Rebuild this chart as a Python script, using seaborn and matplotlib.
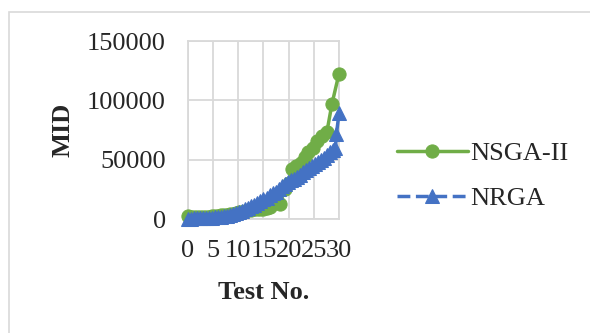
import matplotlib
matplotlib.use("Agg")
import matplotlib.pyplot as plt
import seaborn as sns
import pandas as pd
from matplotlib.patches import Rectangle

# Test numbers and MID values for each algorithm
nsga_x = [0, 0.6, 1.2, 1.8, 2.4, 3.0, 3.6, 4.2, 4.8, 5.4, 6.0, 6.6, 7.2, 7.8,
          8.4, 9.0, 9.6, 10.2, 10.8, 11.4, 12.0, 12.6, 13.2, 13.8, 14.4, 15.0,
          15.6, 16.2, 16.8, 17.4, 18.3, 19.2, 20.0, 20.7, 21.5, 22.4, 23.2,
          23.9, 24.8, 25.7, 26.6, 27.6, 28.6, 30.0]
nsga_mid = [2500, 1500, 1600, 1700, 1800, 1900, 2000, 2100, 2300, 2500, 2700,
            3000, 3300, 3600, 4000, 4500, 5000, 5600, 6200, 6800, 7400, 8000,
            8300, 8500, 8600, 8800, 9500, 10500, 13500, 15500, 12500, 25000,
            30000, 42000, 45000, 47000, 52000, 56500, 60000, 66000, 70000,
            73500, 97000, 122500]

nrga_x = [0, 0.6, 1.2, 1.8, 2.4, 3.0, 3.6, 4.2, 4.8, 5.4, 6.0, 6.6, 7.2, 7.8,
          8.4, 9.0, 9.6, 10.2, 10.8, 11.4, 12.0, 12.6, 13.2, 13.8, 14.4, 15.0,
          15.6, 16.2, 16.8, 17.4, 18.0, 18.6, 19.2, 19.8, 20.4, 21.0, 21.6,
          22.2, 22.8, 23.4, 24.0, 24.6, 25.2, 25.8, 26.4, 27.0, 27.6, 28.2,
          28.8, 29.3, 29.5, 30.0]
nrga_mid = [300, 400, 500, 600, 700, 800, 900, 1000, 1200, 1400, 1700, 2000,
            2400, 2900, 3500, 4200, 5000, 6000, 7000, 8200, 9500, 10800, 12000,
            13500, 15000, 16500, 18000, 20000, 21500, 23000, 25500, 27500,
            29500, 31000, 32500, 34000, 35500, 37500, 39500, 41500, 43000,
            44500, 46000, 48000, 49500, 51500, 54000, 56500, 58000, 60000,
            72000, 89000]

y_ticks = [0, 50000, 100000, 150000]
x_ticks = [0, 5, 10, 15, 20, 25, 30]

GREEN = "#70AD47"
BLUE = "#4472C4"
GRID = "#D9D9D9"
FS = 19

sns.set_theme(style="white")
plt.rcParams["font.family"] = ["Liberation Serif", "DejaVu Serif"]

fig = plt.figure(figsize=(5.9, 3.33), dpi=100)
fig.patch.set_facecolor("white")
# light chart-area border
fig.patches.append(Rectangle((9 / 590, -0.05), 1.0, 1 - 12 / 333 + 0.05,
                             transform=fig.transFigure, fill=False,
                             edgecolor=GRID, linewidth=1.2))

ax = fig.add_axes([188 / 590, 1 - 219 / 333, (339 - 188) / 590, (219 - 41) / 333])

df_a = pd.DataFrame({"Test No.": nsga_x, "MID": nsga_mid})
df_b = pd.DataFrame({"Test No.": nrga_x, "MID": nrga_mid})

sns.lineplot(data=df_a, x="Test No.", y="MID", ax=ax, color=GREEN,
             marker="o", markersize=9.5, markeredgecolor=GREEN, linewidth=2.5,
             label="NSGA-II", zorder=3, clip_on=False)
sns.lineplot(data=df_b, x="Test No.", y="MID", ax=ax, color=BLUE,
             marker="^", markersize=9.5, markeredgecolor=BLUE, linewidth=2.5,
             linestyle="--", label="NRGA", zorder=4, clip_on=False)

ax.set_xlim(0, 30)
ax.set_ylim(0, 150000)
ax.set_xticks(x_ticks)
ax.set_yticks(y_ticks)
ax.set_xticklabels([str(t) for t in x_ticks], fontsize=FS)
ax.set_yticklabels([str(t) for t in y_ticks], fontsize=FS)
ax.tick_params(axis="y", length=0, pad=16)
ax.tick_params(axis="x", length=0, pad=15)
ax.grid(True, color=GRID, linewidth=1.3)
for s in ax.spines.values():
    s.set_color(GRID)
    s.set_linewidth(1.3)

ax.set_xlabel("Test No.", fontsize=FS, fontweight="bold", labelpad=14)
ax.set_ylabel("MID", fontsize=FS, fontweight="bold", labelpad=9)

ax.legend(loc="center left", bbox_to_anchor=(386 / 590, 1 - 176 / 333),
          bbox_transform=fig.transFigure, frameon=False, fontsize=FS,
          handlelength=2.7, handletextpad=0.1, labelspacing=0.8,
          borderaxespad=0)

fig.savefig("out.png", dpi=100, facecolor="white")
